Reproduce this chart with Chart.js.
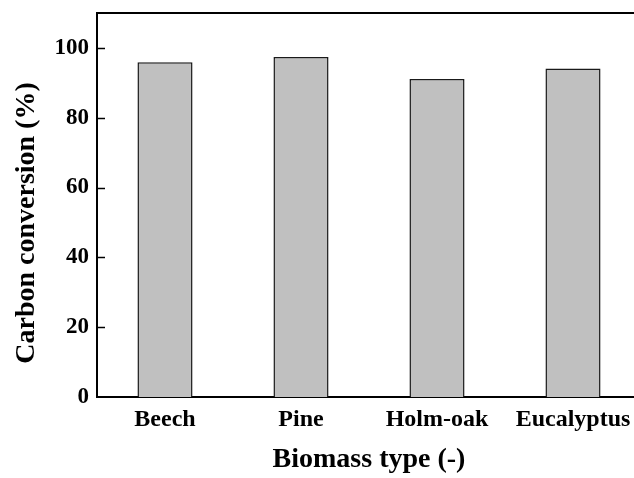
<!DOCTYPE html>
<html>
<head>
<meta charset="utf-8">
<script src="https://cdn.jsdelivr.net/npm/chart.js@4.4.1/dist/chart.umd.min.js"></script>
<style>
  html, body { margin: 0; padding: 0; background: #fff; overflow: hidden; }
  #wrap { width: 641px; height: 478px; }
</style>
</head>
<body>
<div id="wrap"><canvas id="c" width="641" height="478"></canvas></div>
<script>
const categories = ['Beech', 'Pine', 'Holm-oak', 'Eucalyptus'];
const conversion = [95.9, 97.4, 91.1, 94.1];
const yMin = 0, yMax = 110, yStep = 10, yLabelStep = 20;
const yTitle = 'Carbon conversion (%)';
const xTitle = 'Biomass type (-)';

const FONT = "'Liberation Serif', 'Times New Roman', serif";

const framePlugin = {
  id: 'frame',
  afterDraw(chart) {
    const { ctx, chartArea: a, scales } = chart;
    const y = scales.y;
    ctx.save();
    ctx.strokeStyle = '#000';
    // top border
    ctx.lineWidth = 2;
    ctx.beginPath();
    ctx.moveTo(a.left - 1, a.top);
    ctx.lineTo(a.right + 1, a.top);
    ctx.stroke();
    // inward ticks on y axis (major + minor)
    ctx.lineWidth = 1.5;
    y.ticks.forEach(t => {
      if (t.value === yMin || t.value === yMax) return;
      const py = Math.round(y.getPixelForValue(t.value)) + 0.5;
      const len = (t.value % yLabelStep === 0) ? 8 : 4;
      ctx.beginPath();
      ctx.moveTo(a.left, py);
      ctx.lineTo(a.left + len, py);
      ctx.stroke();
    });
    // y axis title (drawn slightly below the axis centre, as in the reference)
    ctx.fillStyle = '#000';
    ctx.font = "bold 28px " + FONT;
    ctx.textAlign = 'center';
    ctx.textBaseline = 'middle';
    ctx.translate(27, (a.top + a.bottom) / 2 + 18);
    ctx.rotate(-Math.PI / 2);
    ctx.fillText(yTitle, 0, 0);
    ctx.restore();
  }
};

new Chart(document.getElementById('c'), {
  type: 'bar',
  data: {
    labels: categories,
    datasets: [{
      data: conversion,
      backgroundColor: '#c0c0c0',
      borderColor: '#1a1a1a',
      borderWidth: 1.5,
      barPercentage: 0.405,
      categoryPercentage: 1.0
    }]
  },
  options: {
    responsive: false,
    animation: false,
    devicePixelRatio: 1,
    layout: { padding: { top: 13, right: 0, left: 0, bottom: 0 } },
    plugins: { legend: { display: false }, tooltip: { enabled: false } },
    scales: {
      x: {
        offset: true,
        grid: { display: false, drawTicks: false },
        border: { display: true, color: '#000', width: 2 },
        ticks: {
          color: '#000',
          padding: 8,
          maxRotation: 0,
          font: { family: FONT, size: 24, weight: 'bold' }
        },
        title: {
          display: true,
          text: xTitle,
          color: '#000',
          padding: { top: 4, bottom: 1 },
          font: { family: FONT, size: 28, weight: 'bold' }
        },
        afterFit(scale) { scale.height = 81; }
      },
      y: {
        min: yMin,
        max: yMax,
        grid: { display: false, drawTicks: false },
        border: { display: true, color: '#000', width: 2 },
        ticks: {
          stepSize: yStep,
          color: '#000',
          padding: 8,
          font: { family: FONT, size: 23, weight: 'bold' },
          callback: v => (v % yLabelStep === 0 && v < yMax) ? String(v) : null
        },
        title: { display: false },
        afterFit(scale) {
          scale.width = 97;
          scale.paddingTop = 0;
          scale.paddingBottom = 0;
        }
      }
    }
  },
  plugins: [framePlugin]
});
</script>
</body>
</html>
